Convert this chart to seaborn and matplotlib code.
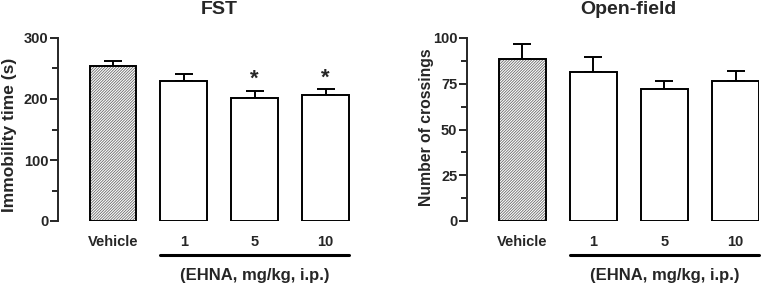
import matplotlib
matplotlib.use("Agg")
from matplotlib import pyplot as plt
from matplotlib.ticker import MultipleLocator
import matplotlib.transforms as mtransforms
import seaborn as sns
import pandas as pd

# data
groups = ["Vehicle", "1", "5", "10"]
fst_mean = [254, 229, 201, 206]
fst_sem = [8, 12, 12, 10]
fst_star = [False, False, True, True]
of_mean = [88.7, 81.2, 71.9, 76.5]
of_sem = [7.8, 8.6, 4.7, 5.2]

sns.set_theme(style="ticks")
plt.rcParams['font.family'] = ['Liberation Sans', 'DejaVu Sans']
plt.rcParams['font.weight'] = 'bold'
plt.rcParams['axes.labelweight'] = 'bold'
plt.rcParams['hatch.linewidth'] = 0.6


def panel(ax, means, sems, title, ylabel, ymax, major, minor, stars=None,
          xmax=3.4, ylabsize=11, ylabpos=(-0.14, 0.5)):
    df = pd.DataFrame({"group": groups, "value": means})
    sns.barplot(data=df, x="group", y="value", ax=ax, color="white",
                edgecolor="black", linewidth=1.4, width=0.66, errorbar=None)
    bars = list(ax.patches)
    # gray hatch on vehicle bar, then black outline on top
    b0 = bars[0]
    b0.set_hatch("////////////")
    b0.set_edgecolor("#6a6a6a")
    b0.set_linewidth(0)
    ax.bar(0, means[0], width=0.66, fill=False, edgecolor="black",
           linewidth=1.4, zorder=b0.get_zorder() + 0.1)
    ax.errorbar(range(len(groups)), means, yerr=[[0] * len(sems), sems],
                fmt="none", ecolor="black", elinewidth=1.4, capsize=6.5,
                capthick=1.4, zorder=0)
    if stars:
        for i, s in enumerate(stars):
            if s:
                ax.text(i, means[i] + sems[i] + ymax * 0.005, "*", ha="center",
                        va="bottom", fontsize=16, fontweight="bold")
    ax.set_ylim(0, ymax)
    ax.set_xlim(-0.775, xmax)
    ax.yaxis.set_major_locator(MultipleLocator(major))
    ax.yaxis.set_minor_locator(MultipleLocator(minor))
    ax.tick_params(axis="y", which="major", length=6, width=1.4, labelsize=10.5, pad=1)
    ax.tick_params(axis="y", which="minor", length=4, width=1.4)
    ax.tick_params(axis="x", length=0, labelsize=10.5, pad=10)
    for lab in ax.get_xticklabels() + ax.get_yticklabels():
        lab.set_fontweight("bold")
    sns.despine(ax=ax, bottom=True)
    ax.spines["left"].set_linewidth(1.4)
    ax.set_xlabel("")
    ax.set_ylabel(ylabel, fontsize=ylabsize, fontweight="bold")
    ax.yaxis.set_label_coords(*ylabpos)
    tr = mtransforms.blended_transform_factory(ax.transData, ax.transAxes)
    ax.plot([1 - 0.33, 3 + 0.33], [-0.186, -0.186], color="black", lw=2.2,
            transform=tr, clip_on=False)
    ax.text(2, -0.30, "(EHNA, mg/kg, i.p.)", transform=tr, ha="center",
            va="center", fontsize=12, fontweight="bold")
    ax.text(1.5, 1.155, title, transform=tr, ha="center", va="center",
            fontsize=14, fontweight="bold")


fig = plt.figure(figsize=(7.61, 2.84), dpi=100)
ax1 = fig.add_axes([58 / 761, 63 / 284, 296 / 761, 183 / 284])
ax2 = fig.add_axes([467 / 761, 63 / 284, 292 / 761, 183 / 284])

panel(ax1, fst_mean, fst_sem, "FST", "Immobility time (s)", 300, 100, 50,
      stars=fst_star, xmax=3.4, ylabsize=12.5, ylabpos=(-0.138, 0.47))
panel(ax2, of_mean, of_sem, "Open-field", "Number of crossings", 100, 25, 12.5,
      xmax=3.33, ylabsize=11.3, ylabpos=(-0.112, 0.51))

fig.savefig("out.png", dpi=100)
